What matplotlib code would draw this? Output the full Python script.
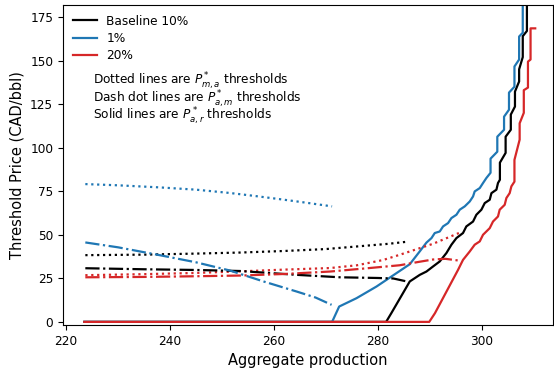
import matplotlib
matplotlib.use("Agg")
import matplotlib.pyplot as plt

# solid lines: P*_{a,r} thresholds
base_r_x = [223.5, 281.6, 282.6, 286.15, 288.08, 289.36, 290.63, 291.92, 293.2, 294.17, 295.13,
            296.4, 297.04, 298.33, 298.97, 299.94, 300.58, 301.54, 301.87, 302.83, 303.13,
            303.5, 303.5, 304.6, 304.6, 305.6, 305.6, 306.4, 306.4, 307.2, 307.2, 307.9, 307.9,
            308.7, 308.7, 308.9]
base_r_y = [0, 0, 5, 23.2, 27, 28.9, 31.8, 34.7, 39.5, 44.3, 48.1,
            51, 54.8, 57.6, 61.5, 64.4, 68.2, 70.1, 73.9, 75.9, 79.7,
            81.6, 91.4, 97, 106.3, 110.3, 119, 123.6, 132.2, 138, 145, 152, 164,
            167, 182, 200]

low_r_x = [223.5, 271.2, 272.56, 275.9, 279.75, 283.6, 286.15, 288.08, 289.36, 290.33, 290.96,
           291.92, 292.56, 293.52, 294.17, 295.13, 295.77, 296.73, 297.69, 298.33, 298.65,
           299.62, 300.25, 300.9, 301.7, 301.7, 303.0, 303.0, 304.3, 304.3, 305.25, 305.25,
           306.3, 306.3, 307.2, 307.2, 307.9, 307.9, 308.1]
low_r_y = [0, 0, 8.8, 13.6, 20.3, 28, 33.1, 40.5, 45.5, 48.1, 51,
           51.9, 54.8, 56.7, 59.6, 61.5, 64.4, 66.3, 69.1, 72, 74.9,
           76.8, 79.7, 82.6, 85.6, 93.7, 97.7, 106.3, 110.3, 117.8, 121.8, 131.6,
           135, 146.6, 150.6, 163.8, 166, 181, 200]

high_r_x = [223.5, 289.9, 291.0, 295.45, 296.4, 297.69, 298.65, 299.62, 300.25, 301.54, 302.17,
            303.13, 303.46, 304.42, 304.75, 305.38, 305.71, 306.3, 306.3, 307.3, 307.3,
            308.1, 308.1, 308.9, 308.9, 309.4, 309.4, 310.3]
high_r_y = [0, 0, 5, 29.9, 35.6, 40.4, 44.3, 46.2, 50, 53.8, 57.6,
            60.5, 64.4, 67.2, 71.1, 73.9, 77.8, 80.5, 93, 104.6, 114,
            120, 133, 134.5, 149.4, 150.6, 168.5, 168.5]

# dotted lines: P*_{m,a} thresholds
base_ma_x = [223.7, 235, 245, 253.5, 262, 270, 277.2, 282, 285.6]
base_ma_y = [38.3, 38.6, 39.2, 39.8, 40.7, 41.8, 43.6, 44.8, 46]
low_ma_x = [223.7, 230, 238, 245, 251.5, 256, 261, 266, 271.2]
low_ma_y = [79.1, 78.4, 77.2, 75.9, 74, 72.4, 70.5, 68.5, 66.3]
high_ma_x = [223.7, 235, 245, 253.5, 262, 270.8, 276, 281, 284.2, 290.6, 295.6]
high_ma_y = [26.8, 27.4, 28.1, 29, 30, 30.9, 32.5, 35.5, 38.5, 44.8, 51]

# dash dot lines: P*_{a,m} thresholds
base_am_x = [223.7, 235, 245, 253.5, 264.4, 272.7, 280, 283, 285.6]
base_am_y = [30.8, 30.2, 29.8, 29.2, 27, 25.6, 25.2, 24.9, 23.2]
low_am_x = [223.7, 230, 238, 245, 251.5, 258, 264.4, 268, 271.1]
low_am_y = [45.6, 42.8, 38.3, 34.2, 29.5, 23.2, 17.4, 14, 9.8]
high_am_x = [223.7, 235, 245, 253.5, 262, 270.8, 278, 284.2, 288, 290.6, 293, 295.6]
high_am_y = [25.6, 25.8, 26.2, 26.6, 27.5, 28.9, 30.8, 32.5, 34.5, 35.8, 36.2, 35.2]

c_base, c_low, c_high = "black", "#1f77b4", "#d62728"
lw = 1.6

fig, ax = plt.subplots(figsize=(5.54, 3.72), dpi=100)
fig.subplots_adjust(left=0.1137, right=0.998, top=0.987, bottom=0.1263)

ax.plot(base_r_x, base_r_y, color=c_base, lw=lw, label="Baseline 10%")
ax.plot(low_r_x, low_r_y, color=c_low, lw=lw, label="1%")
ax.plot(high_r_x, high_r_y, color=c_high, lw=lw, label="20%")

ax.plot(base_ma_x, base_ma_y, color=c_base, lw=lw, ls=":")
ax.plot(low_ma_x, low_ma_y, color=c_low, lw=lw, ls=":")
ax.plot(high_ma_x, high_ma_y, color=c_high, lw=lw, ls=":")

ax.plot(base_am_x, base_am_y, color=c_base, lw=lw, ls="-.")
ax.plot(low_am_x, low_am_y, color=c_low, lw=lw, ls="-.")
ax.plot(high_am_x, high_am_y, color=c_high, lw=lw, ls="-.")

ax.set_xlim(219.4, 313.7)
ax.set_ylim(-1.8, 182)
ax.set_yticks([0, 25, 50, 75, 100, 125, 150, 175])
ax.set_xticks([220, 240, 260, 280, 300])
ax.tick_params(labelsize=8.7)
ax.set_xlabel("Aggregate production", fontsize=10.5)
ax.set_ylabel("Threshold Price (CAD/bbl)", fontsize=10.5)

ax.legend(loc="upper left", frameon=False, fontsize=8.7, labelspacing=0.35,
          borderaxespad=0.4)

ax.text(0.062, 0.749, r"Dotted lines are $P^*_{m,a}$ thresholds", transform=ax.transAxes,
        fontsize=8.7, va="baseline")
ax.text(0.062, 0.695, r"Dash dot lines are $P^*_{a,m}$ thresholds", transform=ax.transAxes,
        fontsize=8.7, va="baseline")
ax.text(0.062, 0.642, r"Solid lines are $P^*_{a,r}$ thresholds", transform=ax.transAxes,
        fontsize=8.7, va="baseline")

fig.savefig("out.png", dpi=100)
